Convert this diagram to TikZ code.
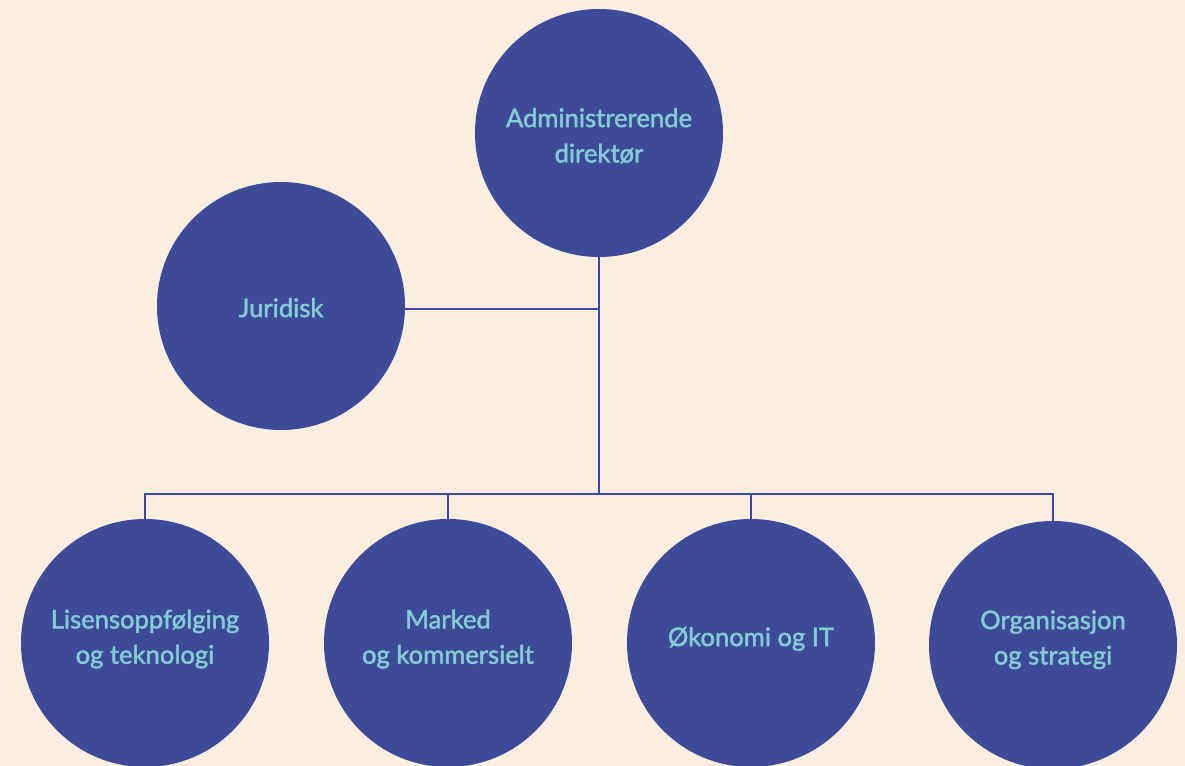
\documentclass[tikz,border=0pt]{standalone}
\usepackage{fontspec}
\setmainfont{Lato}[FakeBold=1.6,UprightFont=*,BoldFont=*]
\definecolor{bg}{HTML}{FAEEE0}
\definecolor{disc}{HTML}{3D4A98}
\definecolor{wire}{HTML}{3C48B0}
\definecolor{txt}{HTML}{86CCD6}
\newcommand{\shifted}[2]{\raisebox{#1}[\height][\depth]{\begin{tabular}{@{}c@{}}#2\end{tabular}}}
\begin{document}
\begin{tikzpicture}[x=0.75pt,y=-0.75pt,
  unit/.style={circle,fill=disc,minimum size=248*0.75pt,inner sep=0pt,text=txt,
    font=\fontsize{19.2}{26.5}\selectfont\bfseries,align=center},
  link/.style={draw=wire,line width=2.2pt}]
\fill[bg] (0,0) rectangle (1185,766);
\clip (0,0) rectangle (1185,766);
\useasboundingbox (0,0) rectangle (1185,766);
\node[unit] (ceo) at (599,133) {\shifted{-3.5pt}{Administrerende\\direktør}};
\node[unit] (jur) at (281,306) {\shifted{-3pt}{Juridisk}};
\node[unit] (lis) at (145,643) {\shifted{3pt}{Lisensoppfølging\\og teknologi}};
\node[unit] (mar) at (448,643) {\shifted{3pt}{Marked\\og kommersielt}};
\node[unit] (oko) at (751,643) {\shifted{3pt}{Økonomi og IT}};
\node[unit] (org) at (1053,645) {\shifted{4pt}{Organisasjon\\og strategi}};
\coordinate (hub) at (599,309);
\coordinate (bus) at (599,494);
\draw[link] (ceo.south) -- (bus);
\draw[link] (hub -| jur.east) -- (hub);
\draw[link] (lis.north) |- (bus);
\draw[link] (org.north) |- (bus);
\draw[link] (mar.north) -- (mar.north |- bus);
\draw[link] (oko.north) -- (oko.north |- bus);
\end{tikzpicture}
\end{document}
